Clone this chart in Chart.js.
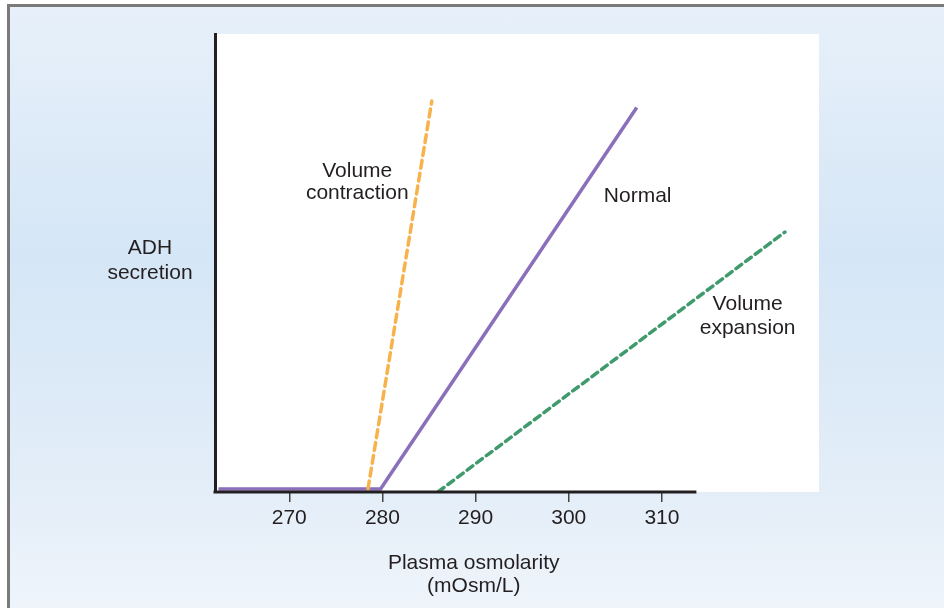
<!DOCTYPE html>
<html>
<head>
<meta charset="utf-8">
<script src="https://cdn.jsdelivr.net/npm/chart.js@4.4.1/dist/chart.umd.min.js"></script>
<style>
  body { margin: 0; background: #fff; }
  .panel {
    position: absolute; left: 7px; top: 4px; width: 960px; height: 620px;
    border-top: 3px solid #7a7a7a; border-left: 3px solid #7a7a7a;
    background: linear-gradient(#e7f0fa 0%, #d5e6f6 40%, #e2edf8 75%, #f0f5fb 100%);
  }
  canvas { position: absolute; left: 0; top: 0; }
</style>
</head>
<body>
<div class="panel"></div>
<canvas id="chart" width="944" height="608"></canvas>
<script>
// valeurs (x = osmolarité, y = sécrétion ADH en unités arbitraires)
const xTicks = [270, 280, 290, 300, 310];

const normalX = [262.4, 279.8, 307.3];
const normalY = [0, 0, 125.8];

const contractionX = [278.45, 285.3];
const contractionY = [0, 127.9];

const expansionX = [286.0, 323.2];
const expansionY = [-0.9, 84.7];

const textColor = '#231f20';
const fontFamily = '"Liberation Sans", Arial, sans-serif';
const font = '21px ' + fontFamily;

const toPoints = (xs, ys) => xs.map((x, i) => ({ x: x, y: ys[i] }));

const annotate = {
    id: 'annotate',
    beforeDraw(chart) {
        const { ctx, chartArea: a } = chart;
        ctx.save();
        ctx.fillStyle = '#fff';
        ctx.fillRect(a.left, a.top, a.right - a.left, a.bottom - a.top);
        ctx.restore();
    },
    afterDraw(chart) {
        const { ctx, chartArea: a } = chart;
        const xs = chart.scales.x, ys = chart.scales.y;
        ctx.save();
        // axe x (s'arrête avant la fin de la zone blanche)
        ctx.strokeStyle = textColor;
        ctx.lineWidth = 3;
        ctx.beginPath();
        ctx.moveTo(a.left - 1.5, a.bottom);
        ctx.lineTo(xs.getPixelForValue(313.7), a.bottom);
        ctx.stroke();

        ctx.fillStyle = textColor;
        ctx.font = font;
        ctx.textAlign = 'center';
        ctx.textBaseline = 'alphabetic';
        const label = (lines, px, py, lh) => {
            lines.forEach((t, i) => ctx.fillText(t, px, py + i * lh));
        };
        label(['Volume', 'contraction'], xs.getPixelForValue(277.3), ys.getPixelForValue(102.9), 22);
        label(['Normal'], xs.getPixelForValue(307.4), ys.getPixelForValue(94.6), 22);
        label(['Volume', 'expansion'], xs.getPixelForValue(319.2), ys.getPixelForValue(59.0), 24);
        label(['ADH', 'secretion'], a.left - 65, 254, 25);
        label(['Plasma osmolarity', '(mOsm/L)'], xs.getPixelForValue(289.8), 569, 23);
        ctx.restore();
    }
};

const ctx = document.getElementById('chart').getContext('2d');
new Chart(ctx, {
    type: 'line',
    data: {
        datasets: [
            {
                label: 'Volume contraction',
                data: toPoints(contractionX, contractionY),
                borderColor: '#f8b24c',
                borderWidth: 3.5,
                borderDash: [8, 5],
                borderCapStyle: 'round'
            },
            {
                label: 'Normal',
                data: toPoints(normalX, normalY),
                borderColor: '#8a70bb',
                borderWidth: 3.5,
                borderJoinStyle: 'miter'
            },
            {
                label: 'Volume expansion',
                data: toPoints(expansionX, expansionY),
                borderColor: '#3f9a6c',
                borderWidth: 3.5,
                borderDash: [7, 5],
                borderCapStyle: 'round'
            }
        ]
    },
    options: {
        responsive: false,
        animation: false,
        layout: { padding: { top: 34, right: 125, left: 0, bottom: 0 } },
        elements: { point: { radius: 0 }, line: { tension: 0 } },
        plugins: { legend: { display: false }, tooltip: { enabled: false } },
        scales: {
            x: {
                type: 'linear',
                min: 262.03,
                max: 326.86,
                afterBuildTicks: (scale) => { scale.ticks = xTicks.map(v => ({ value: v })); },
                afterFit: (scale) => { scale.height = 116; },
                border: { display: false },
                grid: {
                    drawOnChartArea: false,
                    drawTicks: true,
                    tickLength: 10,
                    color: '#444',
                    lineWidth: 1.5
                },
                ticks: {
                    color: textColor,
                    font: { family: fontFamily, size: 21 },
                    padding: 4,
                    maxRotation: 0,
                    autoSkip: false
                }
            },
            y: {
                type: 'linear',
                min: -1,
                max: 150,
                afterFit: (scale) => { scale.width = 215; },
                border: { display: true, color: textColor, width: 3 },
                grid: { display: false },
                ticks: { display: false }
            }
        }
    },
    plugins: [annotate]
});
</script>
</body>
</html>
